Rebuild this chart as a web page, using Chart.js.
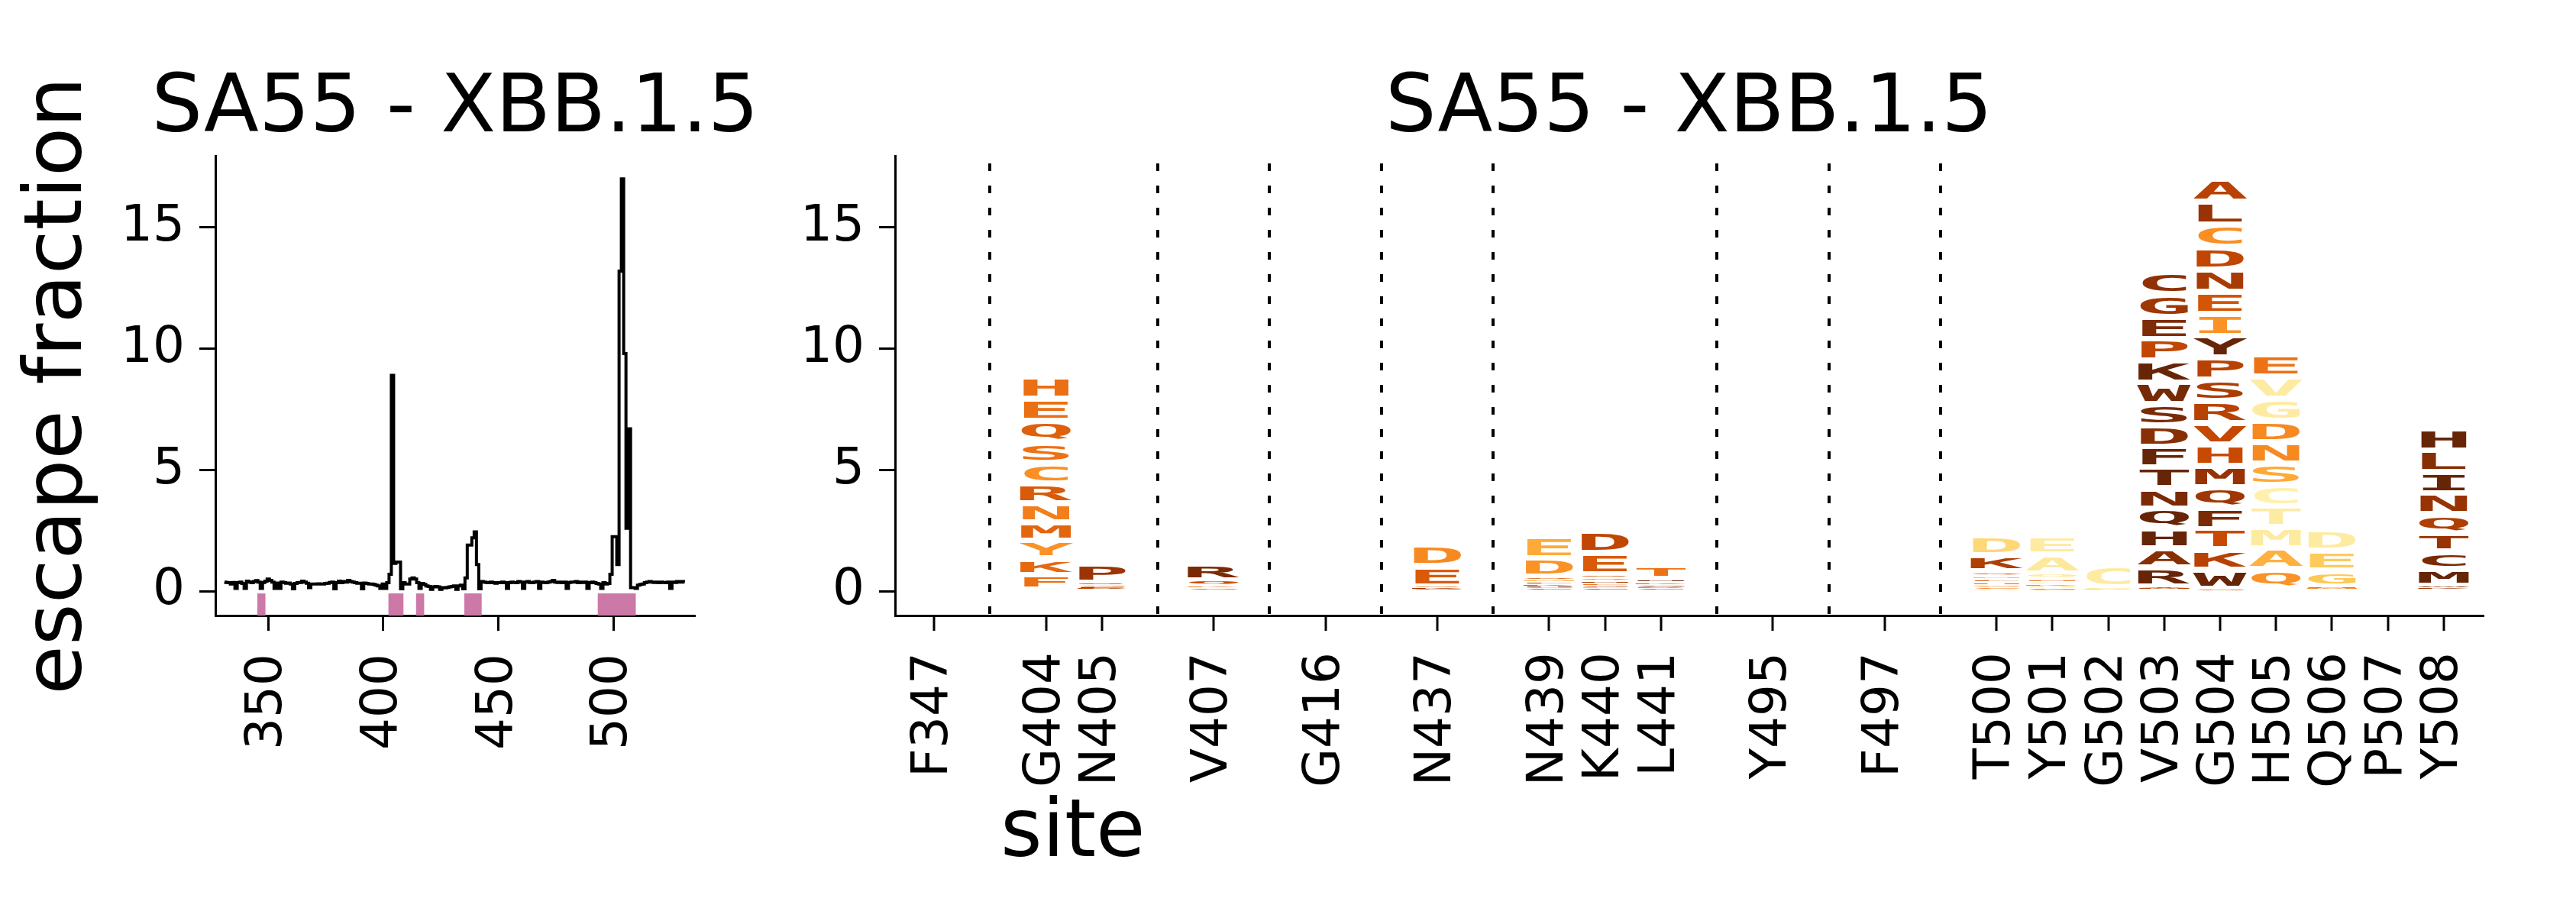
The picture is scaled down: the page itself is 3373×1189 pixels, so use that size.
<!DOCTYPE html>
<html>
<head>
<meta charset="utf-8">
<script src="https://cdn.jsdelivr.net/npm/chart.js@4.4.1/dist/chart.umd.min.js"></script>
<style>
  body { margin: 0; width: 3373px; height: 1189px; overflow: hidden; background: #fff; position: relative; }
  canvas { position: absolute; top: 0; }
  #siteLabel { position: absolute; left: 1310px; top: 1033px; font-family: "DejaVu Sans"; font-size: 105px; line-height: 1; color: #000; }
</style>
</head>
<body>
<canvas id="left" width="1192" height="1189" style="left:0;width:1192px;height:1189px"></canvas>
<canvas id="right" width="2373" height="1189" style="left:1000px;width:2373px;height:1189px"></canvas>
<div id="siteLabel">site</div>
<script>
// ---- left panel: escape fraction per site, sites 331..531
const firstSite = 331;
const escapeValues = [
  0.38, 0.36, 0.35, 0.30, 0.36, 0.12, 0.35, 0.38, 0.32, 0.12, // 331
  0.42, 0.38, 0.35, 0.40, 0.44, 0.38, 0.12, 0.36, 0.42, 0.50, // 341
  0.45, 0.38, 0.12, 0.34, 0.12, 0.38, 0.36, 0.33, 0.34, 0.30, // 351
  0.10, 0.32, 0.35, 0.36, 0.42, 0.38, 0.33, 0.15, 0.30, 0.30, // 361
  0.30, 0.31, 0.30, 0.30, 0.32, 0.33, 0.36, 0.38, 0.10, 0.35, // 371
  0.42, 0.35, 0.40, 0.38, 0.45, 0.40, 0.38, 0.35, 0.33, 0.33, // 381
  0.10, 0.34, 0.32, 0.30, 0.30, 0.28, 0.25, 0.22, 0.12, 0.30, // 391
  0.12, 0.35, 0.70, 8.90, 1.15, 1.20, 1.20, 0.10, 0.35, 0.30, // 401
  0.30, 0.50, 0.55, 0.50, 0.35, 0.12, 0.32, 0.28, 0.22, 0.20, // 411
  0.08, 0.18, 0.20, 0.18, 0.08, 0.15, 0.14, 0.16, 0.18, 0.20, // 421
  0.22, 0.08, 0.22, 0.25, 0.10, 0.55, 1.90, 1.90, 2.20, 2.45, // 431
  1.10, 0.10, 0.40, 0.38, 0.36, 0.35, 0.38, 0.35, 0.33, 0.35, // 441
  0.35, 0.38, 0.35, 0.12, 0.35, 0.38, 0.36, 0.35, 0.40, 0.38, // 451
  0.12, 0.38, 0.40, 0.36, 0.35, 0.38, 0.40, 0.12, 0.38, 0.36, // 461
  0.35, 0.38, 0.40, 0.45, 0.38, 0.36, 0.38, 0.35, 0.38, 0.12, // 471
  0.36, 0.38, 0.38, 0.40, 0.35, 0.38, 0.36, 0.38, 0.12, 0.35, // 481
  0.38, 0.35, 0.32, 0.30, 0.12, 0.35, 0.30, 0.32, 0.70, 2.25, // 491
  2.25, 1.10, 13.2, 17.0, 9.80, 2.60, 6.70, 0.15, 0.15, 0.12, // 501
  0.25, 0.28, 0.30, 0.35, 0.38, 0.40, 0.38, 0.36, 0.38, 0.35, // 511
  0.38, 0.36, 0.35, 0.38, 0.12, 0.38, 0.36, 0.40, 0.38, 0.40, // 521
  0.38                                                        // 531
];
const leftTicks = [350, 400, 450, 500];
const yTicks = [0, 5, 10, 15];

// ---- right panel: logo, letters listed bottom -> top
const logoSites = ['F347', 'G404', 'N405', 'V407', 'G416', 'N437', 'N439', 'K440', 'L441', 'Y495',
  'F497', 'T500', 'Y501', 'G502', 'V503', 'G504', 'H505', 'Q506', 'P507', 'Y508'];
const logoLetters = [
  'ACDE', 'WLFKYMNRCSQEH', 'ACDEGSP', 'EGKQR', 'AC', 'AGKSED', 'ACGHKLMQDE', 'ACFGLNQSED', 'ACDGKNT', 'AC',
  'ACD', 'ACGHLNQKD', 'CGHKLNQAE', 'ADEC', 'ILMYRAHQNTFDSWKPEGC', 'GWKTFQMHVRSPYIENDCLA', 'FIKLQAMTCSNDGVE',
  'AKMNGED', 'ACDE', 'AGKWMCTQNILH'
];
const logoHeights = [
  [0.02, 0.02, 0.02, 0.02],
  [0.03, 0.03, 0.62, 0.67, 0.72, 0.76, 0.80, 0.82, 0.84, 0.86, 0.88, 0.90, 0.92],
  [0.03, 0.04, 0.05, 0.06, 0.07, 0.10, 0.80],
  [0.05, 0.08, 0.12, 0.20, 0.70],
  [0.01, 0.01],
  [0.04, 0.05, 0.05, 0.06, 0.84, 0.86],
  [0.05, 0.05, 0.06, 0.06, 0.07, 0.08, 0.10, 0.12, 0.78, 0.90],
  [0.05, 0.06, 0.06, 0.07, 0.08, 0.10, 0.12, 0.16, 0.88, 0.90],
  [0.05, 0.06, 0.07, 0.08, 0.10, 0.14, 0.58],
  [0.01, 0.01],
  [0.01, 0.015, 0.02],
  [0.08, 0.09, 0.10, 0.11, 0.13, 0.14, 0.17, 0.66, 0.82],
  [0.06, 0.07, 0.08, 0.08, 0.10, 0.12, 0.22, 0.78, 0.80],
  [0.04, 0.05, 0.06, 0.95],
  [0.03, 0.04, 0.05, 0.08, 0.78, 0.80, 0.81, 0.82, 0.84, 0.85, 0.86, 0.87, 0.88, 0.89, 0.90, 0.905, 0.91, 0.92, 0.93],
  [0.10, 0.80, 0.82, 0.85, 0.86, 0.87, 0.87, 0.88, 0.88, 0.90, 0.90, 0.90, 0.90, 0.91, 0.91, 0.91, 0.92, 0.94, 0.94, 0.94],
  [0.02, 0.03, 0.03, 0.04, 0.80, 0.85, 0.86, 0.87, 0.88, 0.88, 0.88, 0.88, 0.92, 0.92, 0.92],
  [0.03, 0.04, 0.05, 0.08, 0.65, 0.84, 0.86],
  [0.02, 0.02, 0.02, 0.03],
  [0.03, 0.04, 0.05, 0.10, 0.70, 0.72, 0.74, 0.80, 0.85, 0.88, 0.90, 0.92]
];
// colour value of each letter on the YlOrBr scale (0 pale .. 1 dark brown)
const logoShades = [
  [0.6, 0.85, 0.7, 0.9],
  [0.9, 0.8, 0.63, 0.65, 0.52, 0.66, 0.58, 0.7, 0.53, 0.62, 0.68, 0.63, 0.63],
  [0.3, 0.6, 0.8, 0.9, 0.7, 0.85, 0.87],
  [0.3, 0.7, 0.6, 0.76, 0.95],
  [0.6, 0.8],
  [0.5, 0.7, 0.85, 0.6, 0.7, 0.55],
  [0.5, 0.8, 0.4, 0.9, 0.7, 0.85, 0.45, 0.68, 0.52, 0.45],
  [0.5, 0.9, 0.4, 0.8, 0.6, 0.85, 0.55, 0.72, 0.7, 0.78],
  [0.5, 0.8, 0.6, 0.9, 0.7, 0.95, 0.62],
  [0.7, 0.9],
  [0.6, 0.65, 0.7],
  [0.3, 0.6, 0.55, 0.65, 0.7, 0.4, 0.75, 0.82, 0.3],
  [0.4, 0.6, 0.3, 0.55, 0.25, 0.62, 0.2, 0.22, 0.2],
  [0.6, 0.3, 0.2, 0.2],
  [0.7, 0.9, 0.8, 1.0, 1.0, 0.92, 1.0, 1.0, 0.95, 1.0, 1.0, 0.92, 0.95, 0.96, 1.0, 0.78, 0.94, 0.86, 0.9],
  [0.7, 1.0, 0.8, 0.76, 0.95, 0.86, 0.88, 0.76, 0.77, 0.8, 0.83, 0.8, 1.0, 0.52, 0.72, 0.84, 0.78, 0.53, 0.88, 0.8],
  [0.6, 0.7, 0.5, 0.8, 0.52, 0.43, 0.2, 0.2, 0.17, 0.45, 0.55, 0.55, 0.2, 0.2, 0.62],
  [0.6, 0.7, 0.55, 0.62, 0.36, 0.35, 0.2],
  [0.6, 0.8, 0.5, 0.7],
  [0.5, 0.7, 0.85, 0.95, 1.0, 0.95, 0.88, 0.82, 0.88, 1.0, 0.92, 1.0]
];

// ---- derived
const lineSites = escapeValues.map((v, i) => firstSite + i);
const siteNums = logoSites.map(s => parseInt(s.slice(1), 10));

// logo slots: consecutive sites side by side, an empty slot (dotted line) between gaps
const logoPos = [];
const sepPos = new Set();
siteNums.forEach((n, i) => {
  if (i === 0) { logoPos.push(0); return; }
  const prev = logoPos[i - 1];
  if (n - siteNums[i - 1] === 1) logoPos.push(prev + 1);
  else { sepPos.add(prev + 1); logoPos.push(prev + 2); }
});
const lastPos = logoPos[logoPos.length - 1];
const labelAt = new Map(logoPos.map((p, i) => [p, logoSites[i]]));

const ylOrBr = (function () {
  const stops = [[255,255,229],[255,247,188],[254,227,145],[254,196,79],[254,153,41],
                 [236,112,20],[204,76,2],[153,52,4],[102,37,6]];
  return function (t) {
    t = Math.max(0, Math.min(1, t));
    const p = t * (stops.length - 1);
    const i = Math.min(Math.floor(p), stops.length - 2);
    const f = p - i;
    const c = stops[i].map((v, j) => Math.round(v + (stops[i + 1][j] - v) * f));
    return 'rgb(' + c.join(',') + ')';
  };
})();

Chart.defaults.font.family = "'DejaVu Sans'";
Chart.defaults.color = '#000';

const titleOpts = {
  display: true, text: 'SA55 - XBB.1.5', color: '#000',
  font: { size: 105, weight: 'normal', lineHeight: 1 },
  padding: { top: 92, bottom: 7 }
};

function yAxis(width, withTitle) {
  return {
    min: -1, max: 17.95,
    afterBuildTicks: s => { s.ticks = yTicks.map(v => ({ value: v })); },
    afterFit: s => { s.width = width; },
    grid: { drawOnChartArea: false, drawTicks: true, tickLength: 21, tickWidth: 3, tickColor: '#000' },
    border: { display: true, color: '#000', width: 3 },
    ticks: { font: { size: 66 }, color: '#000', padding: 19 },
    title: { display: withTitle, text: 'escape fraction', color: '#000',
             font: { size: 105, lineHeight: 1.2 }, padding: { top: 16, bottom: 0 } }
  };
}

// empty axis on the right so the full-width title centres over the plot
function spacer(width) {
  return {
    type: 'linear', position: 'right', display: true,
    afterFit: s => { s.width = width; },
    ticks: { display: false }, grid: { display: false }, border: { display: false }
  };
}

// ---- left chart
new Chart(document.getElementById('left'), {
  type: 'line',
  data: {
    datasets: [
      {
        type: 'line',
        data: lineSites.map((s, i) => ({ x: s, y: escapeValues[i] })),
        borderColor: '#000', borderWidth: 4, pointRadius: 0, stepped: 'middle', fill: false
      },
      {
        type: 'bar',
        data: siteNums.map(s => ({ x: s, y: [-1, -0.1] })),
        backgroundColor: '#cc79a7', borderWidth: 0,
        barThickness: 10
      }
    ]
  },
  options: {
    responsive: false, animation: false, devicePixelRatio: 1,
    layout: { padding: 0 },
    plugins: { legend: { display: false }, tooltip: { enabled: false }, title: titleOpts },
    scales: {
      x: {
        type: 'linear', min: 327, max: 535.5, offset: false,
        afterBuildTicks: s => { s.ticks = leftTicks.map(v => ({ value: v })); },
        afterFit: s => { s.height = 383; },
        grid: { drawOnChartArea: false, drawTicks: true, tickLength: 20, tickWidth: 3, tickColor: '#000', offset: false },
        border: { display: true, color: '#000', width: 3 },
        ticks: { font: { size: 66 }, color: '#000', minRotation: 90, maxRotation: 90, padding: 30, autoSkip: false }
      },
      y: yAxis(282, true),
      yPad: spacer(282)
    }
  }
});

// ---- right chart: logo letters drawn into stacked bar slots
const logoPlugin = {
  id: 'logoLetters',
  afterDatasetsDraw(chart) {
    const ctx = chart.ctx;
    ctx.save();
    ctx.font = 'bold 100px "DejaVu Sans Mono"';
    ctx.textAlign = 'left';
    ctx.textBaseline = 'alphabetic';
    chart.data.datasets.forEach((ds, k) => {
      chart.getDatasetMeta(k).data.forEach((bar, i) => {
        const ch = logoLetters[i][k];
        if (!ch) return;
        const { x, y, base, width } = bar.getProps(['x', 'y', 'base', 'width'], true);
        const slot = Math.abs(base - y);
        if (slot < 0.05) return;
        const m = ctx.measureText(ch);
        const inkW = m.actualBoundingBoxLeft + m.actualBoundingBoxRight;
        const inkH = m.actualBoundingBoxAscent + m.actualBoundingBoxDescent;
        let sx = width * 1.03 / m.width;
        if (inkW * sx > width * 0.97) sx = width * 0.97 / inkW;
        const gh = Math.max(slot * 0.35, slot - 8);
        const sy = gh / inkH;
        ctx.save();
        ctx.translate(x, (y + base) / 2);
        ctx.scale(sx, sy);
        ctx.fillStyle = ylOrBr(logoShades[i][k]);
        ctx.fillText(ch, -(m.actualBoundingBoxRight - m.actualBoundingBoxLeft) / 2,
                     (m.actualBoundingBoxAscent - m.actualBoundingBoxDescent) / 2);
        ctx.restore();
      });
    });
    ctx.restore();
  }
};

const levels = Math.max(...logoLetters.map(l => l.length));
const logoDatasets = [];
for (let k = 0; k < levels; k++) {
  logoDatasets.push({
    data: logoSites.map((s, i) => ({ x: logoPos[i], y: logoHeights[i][k] || 0 })),
    backgroundColor: 'rgba(0,0,0,0)', borderWidth: 0,
    categoryPercentage: 1, barPercentage: 1
  });
}
const allPos = [];
for (let p = 0; p <= lastPos; p++) allPos.push(p);
const clear = 'rgba(0,0,0,0)';

new Chart(document.getElementById('right'), {
  type: 'bar',
  data: { datasets: logoDatasets },
  options: {
    responsive: false, animation: false, devicePixelRatio: 1,
    layout: { padding: { left: 0, right: 122, top: 0, bottom: 0 } },
    plugins: { legend: { display: false }, tooltip: { enabled: false }, title: Object.assign({}, titleOpts, { fullSize: false }) },
    scales: {
      x: {
        type: 'linear', stacked: true, min: -0.7, max: lastPos + 0.7, offset: false,
        afterBuildTicks: s => { s.ticks = allPos.map(v => ({ value: v })); },
        afterFit: s => { s.height = 383; },
        grid: {
          offset: false, drawOnChartArea: true, drawTicks: true,
          color: c => (c.tick && sepPos.has(c.tick.value)) ? '#000' : clear,
          lineWidth: 4,
          tickColor: c => (c.tick && sepPos.has(c.tick.value)) ? clear : '#000',
          tickWidth: 3, tickLength: 20
        },
        border: { display: true, color: '#000', width: 3, dash: [10, 19], dashOffset: 19 },
        ticks: {
          font: { size: 66 }, color: '#000', minRotation: 90, maxRotation: 90, padding: 28, autoSkip: false,
          callback: v => labelAt.get(v) || ''
        }
      },
      y: Object.assign(yAxis(172, false), { stacked: true })
    }
  },
  plugins: [logoPlugin]
});
</script>
</body>
</html>
